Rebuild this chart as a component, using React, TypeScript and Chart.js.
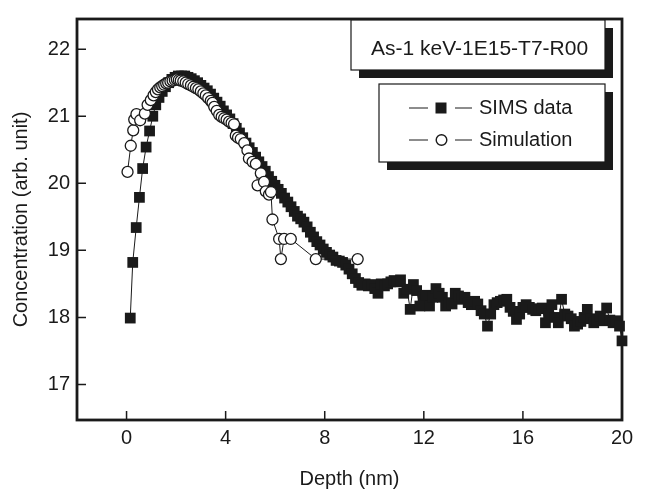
import React, { useEffect, useRef } from 'react';
import { Chart, registerables } from 'chart.js';

Chart.register(...registerables);

const titleText = 'As-1 keV-1E15-T7-R00';
const seriesNames = ['SIMS data', 'Simulation'];
const xTitle = 'Depth (nm)';
const yTitle = 'Concentration (arb. unit)';
const xTickValues = [0, 4, 8, 12, 16, 20];
const yTickValues = [17, 18, 19, 20, 21, 22];

const simsDepth = [
  0.15, 0.25, 0.39, 0.52, 0.65, 0.79, 0.93, 1.06, 1.18, 1.31,
  1.44, 1.57, 1.7, 1.83, 1.96, 2.09, 2.22, 2.35, 2.48, 2.61,
  2.74, 2.87, 3.0, 3.13, 3.26, 3.39, 3.52, 3.65, 3.78, 3.91,
  4.04, 4.17, 4.3, 4.43, 4.56, 4.69, 4.82, 4.95, 5.08, 5.21,
  5.34, 5.47, 5.6, 5.73, 5.86, 5.99, 6.12, 6.25, 6.38, 6.51,
  6.64, 6.77, 6.9, 7.03, 7.16, 7.29, 7.42, 7.55, 7.68, 7.81,
  7.94, 8.07, 8.2, 8.33, 8.46, 8.59, 8.72, 8.85, 8.98, 9.11,
  9.24, 9.37, 9.5, 9.63, 9.76, 9.89, 10.02, 10.15, 10.28, 10.41,
  10.54, 10.67, 10.8, 10.93, 11.06, 11.19, 11.32, 11.45, 11.58, 11.71,
  11.84, 11.97, 12.1, 12.23, 12.36, 12.49, 12.62, 12.75, 12.88, 13.01,
  13.14, 13.27, 13.4, 13.53, 13.66, 13.79, 13.92, 14.05, 14.18, 14.31,
  14.44, 14.57, 14.7, 14.83, 14.96, 15.09, 15.22, 15.35, 15.48, 15.61,
  15.74, 15.87, 16.0, 16.13, 16.26, 16.39, 16.52, 16.65, 16.78, 16.91,
  17.04, 17.17, 17.3, 17.43, 17.56, 17.69, 17.82, 17.95, 18.08, 18.21,
  18.34, 18.47, 18.6, 18.73, 18.86, 18.99, 19.12, 19.25, 19.38, 19.51,
  19.64, 19.77, 19.9, 20.0,
];
const simsConc = [
  17.99, 18.82, 19.34, 19.79, 20.22, 20.54, 20.78, 21.0, 21.17, 21.28,
  21.37, 21.44, 21.5, 21.55, 21.58, 21.6, 21.6, 21.6, 21.58, 21.56,
  21.53, 21.5, 21.46, 21.42, 21.38, 21.33, 21.27, 21.21, 21.15, 21.08,
  21.02, 20.96, 20.89, 20.82, 20.75, 20.68, 20.6, 20.53, 20.46, 20.39,
  20.32, 20.25, 20.18, 20.1, 20.03, 19.97, 19.91, 19.85, 19.78, 19.72,
  19.65, 19.58, 19.51, 19.47, 19.42, 19.35, 19.27, 19.2, 19.13, 19.08,
  19.02, 18.97, 18.93, 18.9, 18.85, 18.84, 18.82, 18.78, 18.72, 18.65,
  18.58, 18.52, 18.48, 18.5, 18.47, 18.49, 18.43, 18.36, 18.5, 18.47,
  18.5, 18.53, 18.55, 18.53, 18.56, 18.36, 18.42, 18.12, 18.49, 18.4,
  18.17, 18.31, 18.33, 18.17, 18.3, 18.43, 18.36, 18.3, 18.17, 18.22,
  18.2, 18.36, 18.32, 18.27, 18.3, 18.22, 18.19, 18.24, 18.2, 18.1,
  18.05, 17.87, 18.05, 18.19, 18.22, 18.24, 18.26, 18.27, 18.15, 18.09,
  17.97, 18.05, 18.15, 18.19, 18.15, 18.12, 18.1, 18.13, 18.14, 17.92,
  18.05, 18.19, 18.0, 17.92, 18.27, 18.05, 18.02, 17.98, 17.87, 17.9,
  17.94, 18.0, 18.12, 17.98, 17.92, 17.96, 18.02, 17.95, 18.14, 17.96,
  17.92, 17.95, 17.87, 17.65,
];

const simDepth = [
  0.04, 0.17, 0.27, 0.31, 0.4, 0.55, 0.74, 0.85, 0.98, 1.09,
  1.18, 1.27, 1.36, 1.44, 1.52, 1.6, 1.68, 1.77, 1.86, 1.95,
  2.03, 2.11, 2.19, 2.29, 2.39, 2.49, 2.6, 2.7, 2.8, 2.9,
  3.0, 3.1, 3.2, 3.3, 3.4, 3.47, 3.54, 3.64, 3.74, 3.84,
  3.94, 4.04, 4.14, 4.24, 4.34, 4.41, 4.5, 4.61, 4.75, 4.88,
  4.94, 5.09, 5.22, 5.29, 5.42, 5.55, 5.62, 5.75, 5.83, 5.89,
  6.16, 6.23, 6.36, 6.63, 7.64, 9.33,
];
const simConc = [
  20.17, 20.56, 20.79, 20.95, 21.03, 20.94, 21.04, 21.17, 21.24, 21.31,
  21.36, 21.4, 21.43, 21.45, 21.47, 21.49, 21.5, 21.52, 21.53, 21.54,
  21.55, 21.54, 21.53, 21.52, 21.5, 21.48, 21.46, 21.44, 21.42, 21.4,
  21.37, 21.34, 21.31, 21.27, 21.23, 21.2, 21.14, 21.08, 21.02, 20.99,
  20.97, 20.95, 20.92, 20.9, 20.88, 20.71, 20.68, 20.66, 20.6, 20.49,
  20.37, 20.32, 20.29, 19.97, 20.15, 20.02, 19.88, 19.83, 19.87, 19.46,
  19.17, 18.87, 19.17, 19.17, 18.87, 18.87,
];

const INK = '#1a1a1a';
const FONT = '"Liberation Sans", Arial, Helvetica, sans-serif';

const decorPlugin = {
  id: 'decor',
  beforeDatasetsDraw(chart: any) {
    const { ctx, chartArea: a, scales } = chart;
    ctx.save();
    ctx.strokeStyle = INK;
    ctx.lineWidth = 1.5;
    ctx.beginPath();
    scales.x.ticks.forEach((t: any) => {
      const px = scales.x.getPixelForValue(t.value);
      ctx.moveTo(px, a.bottom);
      ctx.lineTo(px, a.bottom - 9);
    });
    scales.y.ticks.forEach((t: any) => {
      const py = scales.y.getPixelForValue(t.value);
      ctx.moveTo(a.left, py);
      ctx.lineTo(a.left + 9, py);
    });
    ctx.stroke();
    ctx.lineWidth = 2.8;
    ctx.strokeRect(a.left, a.top, a.right - a.left, a.bottom - a.top);
    ctx.restore();
  },
  afterDatasetsDraw(chart: any) {
    const { ctx } = chart;
    ctx.save();
    const shadowBox = (x: number, y: number, w: number, h: number) => {
      ctx.fillStyle = INK;
      ctx.fillRect(x + 8, y + 8, w, h);
      ctx.fillStyle = '#ffffff';
      ctx.fillRect(x, y, w, h);
      ctx.strokeStyle = INK;
      ctx.lineWidth = 1.2;
      ctx.strokeRect(x, y, w, h);
    };
    shadowBox(351, 20, 254, 50);
    ctx.fillStyle = INK;
    ctx.font = `21px ${FONT}`;
    ctx.textBaseline = 'middle';
    ctx.textAlign = 'left';
    ctx.fillText(titleText, 371, 49);
    shadowBox(379, 84, 226, 78);
    const rows = [108, 140];
    ctx.font = `20px ${FONT}`;
    rows.forEach((ry, i) => {
      ctx.strokeStyle = INK;
      ctx.lineWidth = 1;
      ctx.beginPath();
      ctx.moveTo(409, ry);
      ctx.lineTo(428, ry);
      ctx.moveTo(455, ry);
      ctx.lineTo(472, ry);
      ctx.stroke();
      if (i === 0) {
        ctx.fillStyle = INK;
        ctx.fillRect(435.5, ry - 5.5, 11, 11);
      } else {
        ctx.beginPath();
        ctx.arc(441.5, ry, 5.3, 0, Math.PI * 2);
        ctx.fillStyle = '#fff';
        ctx.fill();
        ctx.lineWidth = 1.4;
        ctx.stroke();
      }
      ctx.fillStyle = INK;
      ctx.fillText(seriesNames[i], 479, ry);
    });
    ctx.restore();
  },
};

export default function App() {
  const ref = useRef<HTMLCanvasElement | null>(null);
  useEffect(() => {
    if (!ref.current) return;
    const chart = new Chart(ref.current, {
      type: 'scatter',
      data: {
        datasets: [
          {
            label: seriesNames[1],
            data: simDepth.map((x, i) => ({ x, y: simConc[i] })),
            showLine: true,
            borderColor: INK,
            borderWidth: 1,
            pointStyle: 'circle',
            pointRadius: 5.5,
            pointBackgroundColor: '#ffffff',
            pointBorderColor: INK,
            pointBorderWidth: 1.3,
            order: 1,
            clip: false as any,
          },
          {
            label: seriesNames[0],
            data: simsDepth.map((x, i) => ({ x, y: simsConc[i] })),
            showLine: true,
            borderColor: INK,
            borderWidth: 1,
            pointStyle: 'rect',
            pointRadius: 7.6,
            pointBackgroundColor: INK,
            pointBorderColor: INK,
            pointBorderWidth: 0,
            order: 2,
            clip: false as any,
          },
        ],
      },
      options: {
        animation: false,
        responsive: false,
        layout: { padding: { left: 0, right: 23, top: 13, bottom: 0 } },
        plugins: { legend: { display: false }, tooltip: { enabled: false } },
        scales: {
          x: {
            type: 'linear',
            min: -2,
            max: 20,
            afterFit: (s: any) => { s.height = 73; },
            afterBuildTicks: (s: any) => { s.ticks = xTickValues.map((v) => ({ value: v })); },
            grid: { display: false, drawTicks: false },
            border: { display: false },
            ticks: { color: INK, font: { family: FONT, size: 20 }, padding: 6, maxRotation: 0 },
            title: { display: true, text: xTitle, color: INK, font: { family: FONT, size: 20 }, padding: { top: 0, bottom: 2 } },
          },
          y: {
            type: 'linear',
            min: 16.47,
            max: 22.45,
            afterFit: (s: any) => { s.width = 77; },
            afterBuildTicks: (s: any) => { s.ticks = yTickValues.map((v) => ({ value: v })); },
            grid: { display: false, drawTicks: false },
            border: { display: false },
            ticks: { color: INK, font: { family: FONT, size: 20 }, padding: 7 },
            title: { display: true, text: yTitle, color: INK, font: { family: FONT, size: 20 }, padding: { top: 9, bottom: 0 } },
          },
        },
      },
      plugins: [decorPlugin],
    });
    return () => chart.destroy();
  }, []);
  return (
    <div style={{ position: 'absolute', left: 0, top: 0, width: 645, height: 493, background: '#fff' }}>
      <canvas ref={ref} width={645} height={493} style={{ display: 'block', width: 645, height: 493 }} />
    </div>
  );
}
